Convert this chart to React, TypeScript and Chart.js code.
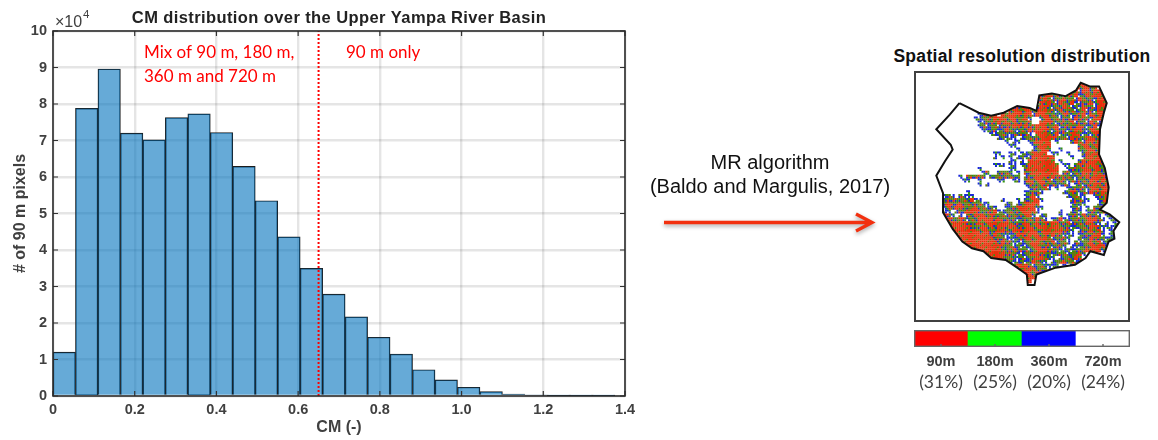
import { useEffect, useRef } from 'react';
import { Chart, registerables } from 'chart.js';

Chart.register(...registerables);

// Histogram
const binCenters = [
    0.0275, 0.0825, 0.1375, 0.1925, 0.2475, 0.3025, 0.3575, 0.4125, 0.4675, 0.5225, 0.5775, 0.6325, 0.6875,
    0.7425, 0.7975, 0.8525, 0.9075, 0.9625, 1.0175, 1.0725, 1.1275, 1.1825, 1.2375, 1.2925, 1.3475,
];
const pixelCounts = [
    12000, 78800, 89600, 72000, 70200, 76300, 77300, 72200, 62900, 53500, 43600, 35000, 27900,
    21700, 16100, 11500, 7200, 4400, 2400, 1200, 500, 200, 60, 30, 10,
];
const cmThreshold = 0.65;

// Spatial resolution map, one letter per cell: r mostly red, o red/olive mix, g green mix, b blue mix, . white
const mapRows = [
    '.....................................rr.........',
    '....................................rorrgr.rr....',
    '...................................orbrrgrrorr...',
    '...........................orrorobrorbgrorrrrr...',
    '...........................oroboorgobrogobrrrrr..',
    '...........................rorgbrogrbbogrbrrorr..',
    '..........b.........gorrr.grrobogrobgbrogbrrrrr..',
    '...........bgo.....orrorrgrrroobrgoobgrbobrorro..',
    '...........bgoro.rorrrorrbrrroogbrobgorbrorrobr..',
    '..........bbgoorrrorrgorb..brrgobogbrgoobrrorbb..',
    '...........bbogorgrorgooo..rrrobgogrbogbrgbrorb..',
    '...........bgbgobogorrorgorrrgorbgoogrobgrbrrob..',
    '............bbgobgrogbogrgrrrobrgoborrgbrrorrr...',
    '..............bbgogbggogb.rrrogrbogrrobgbrorro...',
    '................bgbbb.bgogorrrrogobrgogrrorrrgb..',
    '..................b.bb..bgrrrr.b...grobrrorrrob..',
    '...................bb....bgrrr.......grrgrrrrorr.',
    '.....................b...bgrro..b....ogrrorrrorrb.',
    '...............bb..bb.bbgrrrr.bb..b...grorrgrrob.',
    '...............b.b.b.bgbbrrrrrr....b..brrorogrrb.',
    '...................bb.b.rrrrrro.b....grgrrrorrro.',
    '...............bbb.bb.bgrrrrrrro.bb.grorrrorrorrr',
    '...........b.......bb..grrrrrrrr..bgogrrorrgrorro',
    '............bo..goog.b.ogrrrrrrr.gobogrrorogrrrob',
    '......b.oogoo.ggogoogg.bogrrrorgooogboorgrrrorrrg',
    '.......bb..b....bb..bb.grorrorbgooboboogrrorrrrob',
    '...........b.b.........bgogrooggbgb.bobgorrgrrrrr',
    '........................bgogrb.b..bgogobrrorrrrog',
    '........b..............bgogb.....bgrobgbrgorrrogr',
    '.bbgb.gbbb.............bgrb.......bgobb..bgorrrbg',
    '.bgogogogrbb.....b...b.ggrrb.......bogbb..bgrgogo',
    '.bgrogrgogoobb....bg.bgrrrr........bogb...bgrogb.',
    '..brgrrogorgobgb..bgorrrrrbb.......bgb.b.ogrrb...',
    '..bb.bogrrroggorbbgogorrrrb.....b..bgb.bgogrbgb..',
    '..rob.b.ggrrrgrogoboogorrb.bg...b.bgobrgogb.bgbbb',
    '..brogrobogrrrrgroggobgoogrgb.bgrbbgoogrrrgb.bbgb',
    '...orrrroggrorrrorrogogroorgrorrgorboogrrgb.b.bb.',
    '...brrrrroggrorgrrorrgorrorrrorrogobggogrrobbbb..',
    '....grrrrrrorrggrrggrrorrrogrrorrgob.bogrgrb.bb..',
    '....brrrrrrrrrgrogbbgrrorrrgrorgobbb.bgogrrb.bg..',
    '.....orrrrrrrrrgogbbbgorrgrrrobggob..gbgrgogbgb..',
    '.....borrrrrrrrrgrgobbbgorrogorbgob.gbgorgrbgb...',
    '......brrrrrrrrrrogobgbbgrrogobgob.bbbgorrrrgb...',
    '........orrrrrrrrogorgogbgrrrgogbbgbgoorrrrbg....',
    '........g.rrrrrrrrgoobbgorrgogbgoobgorb.gb.......',
    '..........b.rrrrrrgogbgbggrrogb.bgogrg.b.b.......',
    '..............ggrrrobbgbgrogb.bgorgobb...........',
    '...................ogrrrgbgogbbg.b.b.............',
    '......................grrrgogb...................',
    '.......................rrgrg.....................',
    '........................rrg......................',
    '........................r.b......................',
];
// each map letter stands for a 2x2 speckle, in three variants
const cellTiles: Record<string, string[]> = {
    r: ['rrrr', 'rorr', 'rrgr'],
    o: ['ogrb', 'robg', 'ogor'],
    g: ['gobo', 'bgob', 'ogbr'],
    b: ['bg.b', '.bob', 'bb.g'],
    '.': ['....', '....', '....'],
};
const cellColors: Record<string, string> = { r: '#e8300c', o: '#667a10', g: '#329410', b: '#1826d8' };

// Basin outline in map units
const outlineX = [43, 53, 63, 76, 89, 103, 116, 123, 126, 139, 153, 164, 169, 179, 188, 196, 193, 189, 188, 194, 198, 196, 189, 199, 209, 203, 204, 198, 193, 179, 174, 163, 143, 123, 121, 114, 113, 103, 91, 76, 68, 56, 46, 36, 26, 26, 19, 28, 36, 34, 19, 33, 43];
const outlineY = [29, 34, 39, 42, 39, 32, 34, 37, 21, 19, 22, 16, 8, 12, 12, 29, 39, 56, 82, 96, 116, 132, 139, 144, 152, 161, 169, 172, 186, 182, 189, 196, 199, 206, 217, 217, 206, 199, 191, 189, 182, 179, 172, 159, 142, 122, 104, 89, 77, 72, 56, 41, 29];

// Colour bar below the map
const resolutions = ['90m', '180m', '360m', '720m'];
const resolutionShares = [31, 25, 20, 24];
const resolutionColors = ['#ff0000', '#00ff00', '#0000ff', '#ffffff'];

const SANS = '"Liberation Sans", Arial, sans-serif';
const INK = '#404040';

const histogramDecor = {
    id: 'histogramDecor',
    afterDatasetsDraw(chart: any) {
        const { ctx, chartArea: a, scales } = chart;
        ctx.save();
        // MATLAB style inward ticks
        ctx.strokeStyle = '#333';
        ctx.lineWidth = 1.2;
        ctx.beginPath();
        scales.x.ticks.forEach((t: any) => {
            const x = scales.x.getPixelForValue(t.value);
            ctx.moveTo(x, a.bottom);
            ctx.lineTo(x, a.bottom - 5);
            ctx.moveTo(x, a.top);
            ctx.lineTo(x, a.top + 5);
        });
        scales.y.ticks.forEach((t: any) => {
            const y = scales.y.getPixelForValue(t.value);
            ctx.moveTo(a.left, y);
            ctx.lineTo(a.left + 5, y);
            ctx.moveTo(a.right, y);
            ctx.lineTo(a.right - 5, y);
        });
        ctx.stroke();
        ctx.strokeStyle = '#2b2b2b';
        ctx.lineWidth = 1.6;
        ctx.strokeRect(a.left, a.top, a.right - a.left, a.bottom - a.top);

        // title, centred on the axes
        ctx.fillStyle = '#222';
        ctx.textBaseline = 'middle';
        ctx.textAlign = 'center';
        ctx.font = `bold 16.5px ${SANS}`;
        ctx.letterSpacing = '0.4px';
        ctx.fillText('CM distribution over the Upper Yampa River Basin', (a.left + a.right) / 2, 18);
        ctx.letterSpacing = '0px';

        // exponent over the y axis
        ctx.fillStyle = INK;
        ctx.textAlign = 'left';
        ctx.font = `16px ${SANS}`;
        ctx.fillText('\u00d710', 55, 23);
        ctx.font = `11.5px ${SANS}`;
        ctx.fillText('4', 83, 15);

        // zone notes
        ctx.fillStyle = '#ff0000';
        ctx.font = '17px Lato, sans-serif';
        ctx.fillText('Mix of 90 m, 180 m,', 144, 53);
        ctx.fillText('360 m and 720 m', 144, 77);
        ctx.fillText('90 m only', 346, 53);
        ctx.restore();
    },
};

const tracePath = (chart: any) => {
    const { ctx, scales } = chart;
    ctx.beginPath();
    outlineX.forEach((x, i) => ctx.lineTo(scales.x.getPixelForValue(x), scales.y.getPixelForValue(outlineY[i])));
    ctx.closePath();
};

const mapDecor = {
    id: 'mapDecor',
    beforeDatasetDraw(chart: any, args: any) {
        // keep the cells inside the basin outline
        if (args.index === 0) return;
        chart.ctx.save();
        tracePath(chart);
        chart.ctx.clip();
    },
    afterDatasetDraw(chart: any, args: any) {
        if (args.index !== 0) chart.ctx.restore();
    },
    afterDraw(chart: any) {
        const { ctx, width, height } = chart;
        ctx.save();
        ctx.strokeStyle = '#404040';
        ctx.lineWidth = 2;
        ctx.strokeRect(1, 1, width - 2, height - 2);
        ctx.restore();
    },
};

const colorbarDecor = {
    id: 'colorbarDecor',
    afterDraw(chart: any) {
        const { ctx, chartArea: a, scales } = chart;
        ctx.save();
        ctx.strokeStyle = '#666';
        ctx.lineWidth = 1.4;
        ctx.strokeRect(a.left + 0.7, a.top + 0.7, a.right - a.left - 1.4, a.bottom - a.top - 1.4);
        ctx.beginPath();
        resolutions.forEach((_, i) => {
            const x = scales.x.getPixelForTick(i);
            ctx.moveTo(x, a.bottom - 1);
            ctx.lineTo(x, a.bottom - 3);
        });
        ctx.stroke();
        ctx.fillStyle = INK;
        ctx.font = '17.5px Lato, sans-serif';
        ctx.textAlign = 'center';
        ctx.textBaseline = 'middle';
        resolutionShares.forEach((share, i) => {
            ctx.fillText(`(${share}%)`, scales.x.getPixelForTick(i), a.bottom + 35);
        });
        ctx.restore();
    },
};

const App = () => {
    const histRef = useRef<HTMLCanvasElement | null>(null);
    const mapRef = useRef<HTMLCanvasElement | null>(null);
    const barRef = useRef<HTMLCanvasElement | null>(null);

    useEffect(() => {
        if (!histRef.current || !mapRef.current || !barRef.current) return;

        const hist = new Chart(histRef.current, {
            type: 'bar',
            data: {
                datasets: [
                    {
                        type: 'line',
                        data: [{ x: cmThreshold, y: 0 }, { x: cmThreshold, y: 100000 }],
                        borderColor: '#ff0000',
                        borderWidth: 2,
                        borderDash: [2, 2],
                        pointRadius: 0,
                        order: 0,
                    },
                    {
                        type: 'bar',
                        data: binCenters.map((x, i) => ({ x, y: pixelCounts[i] })),
                        backgroundColor: 'rgba(0, 114, 189, 0.6)',
                        borderColor: '#1c1c1c',
                        borderWidth: 0.8,
                        barPercentage: 1,
                        categoryPercentage: 1,
                        order: 1,
                    },
                ] as any,
            },
            options: {
                responsive: false,
                animation: false,
                layout: { padding: { right: 53, top: 31 } },
                plugins: { legend: { display: false }, tooltip: { enabled: false } },
                scales: {
                    x: {
                        type: 'linear',
                        min: 0,
                        max: 1.4,
                        offset: false,
                        afterFit: (s: any) => { s.height = 44; },
                        ticks: {
                            stepSize: 0.2,
                            color: INK,
                            padding: 5,
                            maxRotation: 0,
                            font: { family: SANS, size: 14.5, weight: 'bold' },
                        },
                        grid: { offset: false, color: 'rgba(0,0,0,0.1)', lineWidth: 2.4, drawTicks: false },
                        border: { display: false },
                        title: {
                            display: true,
                            text: 'CM (-)',
                            color: INK,
                            font: { family: SANS, size: 16, weight: 'bold' },
                            padding: { top: 0, bottom: 3 },
                        },
                    },
                    y: {
                        min: 0,
                        max: 100000,
                        afterFit: (s: any) => { s.width = 53; },
                        ticks: {
                            stepSize: 10000,
                            color: INK,
                            padding: 6,
                            font: { family: SANS, size: 14.5, weight: 'bold' },
                            callback: (v: any) => String(v / 10000),
                        },
                        grid: { color: 'rgba(0,0,0,0.1)', lineWidth: 2.4, drawTicks: false },
                        border: { display: false },
                        title: {
                            display: true,
                            text: '# of 90 m pixels',
                            color: INK,
                            font: { family: SANS, size: 16, weight: 'bold' },
                            padding: { top: 11, bottom: 0 },
                        },
                    },
                },
            } as any,
            plugins: [histogramDecor],
        });

        const cellsOf = (color: string) => {
            const cells: { x: number; y: number }[] = [];
            mapRows.forEach((row, r) => {
                row.split('').forEach((ch, c) => {
                    const tile = cellTiles[ch][(r + 2 * c) % 3];
                    tile.split('').forEach((t, k) => {
                        if (t === color) cells.push({ x: 19 + 4 * c + 2 * (k % 2), y: 8 + 4 * r + 2 * (k >> 1) });
                    });
                });
            });
            return cells;
        };

        const map = new Chart(mapRef.current, {
            type: 'scatter',
            data: {
                datasets: [
                    {
                        data: outlineX.map((x, i) => ({ x, y: outlineY[i] })),
                        showLine: true,
                        borderColor: '#111',
                        borderWidth: 2,
                        pointRadius: 0,
                        order: 0,
                    },
                    ...Object.keys(cellColors).map((k) => ({
                        data: cellsOf(k),
                        backgroundColor: cellColors[k],
                        pointStyle: 'rect',
                        pointRadius: 1.45,
                        borderWidth: 0,
                        order: 1,
                    })),
                ] as any,
            },
            options: {
                responsive: false,
                animation: false,
                plugins: { legend: { display: false }, tooltip: { enabled: false } },
                scales: {
                    x: { type: 'linear', min: 0, max: 216, display: false },
                    y: { type: 'linear', min: 0, max: 251, reverse: true, display: false },
                },
            } as any,
            plugins: [mapDecor],
        });

        const bar = new Chart(barRef.current, {
            type: 'bar',
            data: {
                labels: resolutions,
                datasets: [
                    {
                        data: resolutions.map(() => 1),
                        backgroundColor: resolutionColors,
                        borderWidth: 0,
                        barPercentage: 1,
                        categoryPercentage: 1,
                    },
                ],
            },
            options: {
                responsive: false,
                animation: false,
                plugins: { legend: { display: false }, tooltip: { enabled: false } },
                scales: {
                    x: {
                        afterFit: (s: any) => { s.height = 53; },
                        grid: { display: false, drawTicks: false },
                        border: { display: false },
                        ticks: { color: INK, padding: 6.5, maxRotation: 0, font: { family: SANS, size: 14.5, weight: 'bold' } },
                    },
                    y: { min: 0, max: 1, display: false },
                },
            } as any,
            plugins: [colorbarDecor],
        });

        return () => {
            hist.destroy();
            map.destroy();
            bar.destroy();
        };
    }, []);

    const textCss: React.CSSProperties = { position: 'absolute', fontFamily: SANS, whiteSpace: 'nowrap', textAlign: 'center', transform: 'translateX(-50%)' };

    return (
        <div style={{ position: 'absolute', left: 0, top: 0, width: 1158, height: 440, background: '#fff', overflow: 'hidden' }}>
            <canvas ref={histRef} width={678} height={440} style={{ position: 'absolute', left: 0, top: 0 }} />
            <div style={{ ...textCss, left: 770, top: 150, fontSize: 20, lineHeight: '24px', color: '#111' }}>
                MR algorithm<br />(Baldo and Margulis, 2017)
            </div>
            <svg width={230} height={30} style={{ position: 'absolute', left: 655, top: 208, filter: 'drop-shadow(0 2px 2px rgba(0,0,0,0.35))' }}>
                <path d="M9 14.5 H216 M201 6 L217 14.5 L201 23" fill="none" stroke="#f2300f" strokeWidth={3.4} />
            </svg>
            <div style={{ ...textCss, left: 1022, top: 46, fontSize: 17.5, letterSpacing: 0.3, fontWeight: 'bold', color: '#111' }}>
                Spatial resolution distribution
            </div>
            <canvas ref={mapRef} width={216} height={251} style={{ position: 'absolute', left: 914, top: 71 }} />
            <canvas ref={barRef} width={216} height={70} style={{ position: 'absolute', left: 914, top: 330 }} />
        </div>
    );
};

export default App;
